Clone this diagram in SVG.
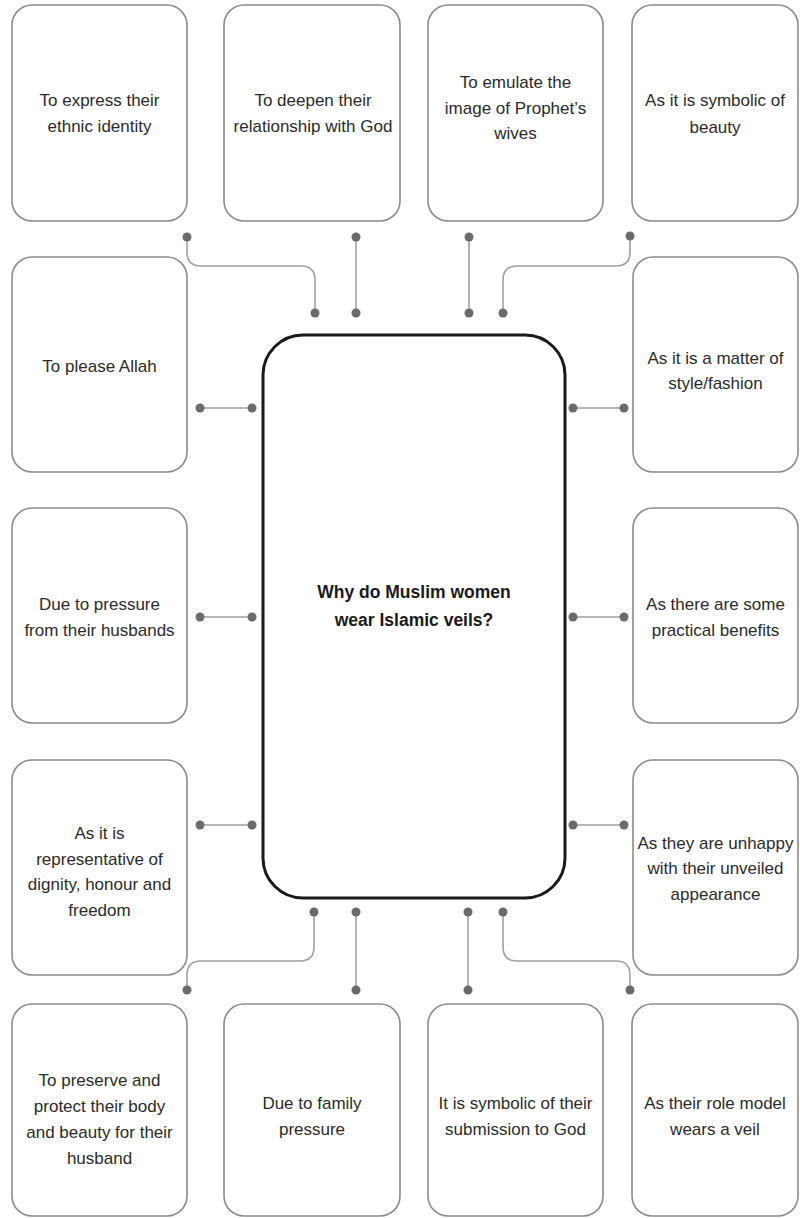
<svg xmlns="http://www.w3.org/2000/svg" width="800" height="1218" viewBox="0 0 800 1218">
<style>
.box{fill:#fff;stroke:#8c8c8c;stroke-width:1.6}
.center{fill:#fff;stroke:#1a1a1a;stroke-width:3}
.t{font-family:"Liberation Sans",Arial,sans-serif;font-size:17px;fill:#2b2b2b;text-anchor:middle}
.tb{font-family:"Liberation Sans",Arial,sans-serif;font-size:17.5px;font-weight:bold;fill:#1a1a1a;text-anchor:middle}
.c{fill:none;stroke:#a0a0a0;stroke-width:1.6}
.d{fill:#6b6b6e}
</style>
<rect width="800" height="1218" fill="#fff"/>
<g id="connectors">
<path class="c" d="M187,237 V252 Q187,266 201,266 H301 Q315,266 315,280 V313"/>
<path class="c" d="M356,237 V313"/>
<path class="c" d="M469,237 V313"/>
<path class="c" d="M630,236 V252 Q630,266 616,266 H517 Q503,266 503,280 V313"/>
<path class="c" d="M200,408 H252"/>
<path class="c" d="M573,408 H624"/>
<path class="c" d="M200,617 H252"/>
<path class="c" d="M573,617 H624"/>
<path class="c" d="M200,825 H252"/>
<path class="c" d="M573,825 H624"/>
<path class="c" d="M314,912 V947 Q314,961 300,961 H201 Q187,961 187,975 V990"/>
<path class="c" d="M356,912 V990"/>
<path class="c" d="M468,912 V990"/>
<path class="c" d="M503,912 V947 Q503,961 517,961 H616 Q630,961 630,975 V990"/>
<g class="d">
<circle cx="187" cy="237" r="4.5"/><circle cx="315" cy="313" r="4.5"/>
<circle cx="356" cy="237" r="4.5"/><circle cx="356" cy="313" r="4.5"/>
<circle cx="469" cy="237" r="4.5"/><circle cx="469" cy="313" r="4.5"/>
<circle cx="630" cy="236" r="4.5"/><circle cx="503" cy="313" r="4.5"/>
<circle cx="200" cy="408" r="4.5"/><circle cx="252" cy="408" r="4.5"/>
<circle cx="573" cy="408" r="4.5"/><circle cx="624" cy="408" r="4.5"/>
<circle cx="200" cy="617" r="4.5"/><circle cx="252" cy="617" r="4.5"/>
<circle cx="573" cy="617" r="4.5"/><circle cx="624" cy="617" r="4.5"/>
<circle cx="200" cy="825" r="4.5"/><circle cx="252" cy="825" r="4.5"/>
<circle cx="573" cy="825" r="4.5"/><circle cx="624" cy="825" r="4.5"/>
<circle cx="314" cy="912" r="4.5"/><circle cx="187" cy="990" r="4.5"/>
<circle cx="356" cy="912" r="4.5"/><circle cx="356" cy="990" r="4.5"/>
<circle cx="468" cy="912" r="4.5"/><circle cx="468" cy="990" r="4.5"/>
<circle cx="503" cy="912" r="4.5"/><circle cx="630" cy="990" r="4.5"/>
</g>
</g>
<g id="center">
<rect class="center" x="263" y="335" width="302" height="563" rx="40"/>
<text class="tb" x="414" y="598">Why do Muslim women</text>
<text class="tb" x="414" y="626">wear Islamic veils?</text>
</g>
<g id="n1"><rect class="box" x="12" y="5" width="175" height="216" rx="20"/>
<text class="t" x="99.5" y="106">To express their</text><text class="t" x="99.5" y="132">ethnic identity</text></g>
<g id="n2"><rect class="box" x="224" y="5" width="176" height="216" rx="20"/>
<text class="t" x="313" y="106">To deepen their</text><text class="t" x="313" y="132">relationship with God</text></g>
<g id="n3"><rect class="box" x="428" y="5" width="175" height="216" rx="20"/>
<text class="t" x="515.5" y="88">To emulate the</text><text class="t" x="515.5" y="114">image of Prophet’s</text><text class="t" x="515.5" y="139">wives</text></g>
<g id="n4"><rect class="box" x="632" y="5" width="166" height="216" rx="20"/>
<text class="t" x="715" y="106">As it is symbolic of</text><text class="t" x="715" y="133">beauty</text></g>
<g id="n5"><rect class="box" x="12" y="257" width="175" height="215" rx="20"/>
<text class="t" x="99.5" y="372">To please Allah</text></g>
<g id="n6"><rect class="box" x="633" y="257" width="165" height="215" rx="20"/>
<text class="t" x="715.5" y="364">As it is a matter of</text><text class="t" x="715.5" y="389">style/fashion</text></g>
<g id="n7"><rect class="box" x="12" y="508" width="175" height="215" rx="20"/>
<text class="t" x="99.5" y="610">Due to pressure</text><text class="t" x="99.5" y="636">from their husbands</text></g>
<g id="n8"><rect class="box" x="633" y="508" width="165" height="215" rx="20"/>
<text class="t" x="715.5" y="610">As there are some</text><text class="t" x="715.5" y="636">practical benefits</text></g>
<g id="n9"><rect class="box" x="12" y="760" width="175" height="215" rx="20"/>
<text class="t" x="99.5" y="839">As it is</text><text class="t" x="99.5" y="865">representative of</text><text class="t" x="99.5" y="890">dignity, honour and</text><text class="t" x="99.5" y="916">freedom</text></g>
<g id="n10"><rect class="box" x="633" y="760" width="165" height="215" rx="20"/>
<text class="t" x="715.5" y="849">As they are unhappy</text><text class="t" x="715.5" y="874">with their unveiled</text><text class="t" x="715.5" y="900">appearance</text></g>
<g id="n11"><rect class="box" x="12" y="1004" width="175" height="212" rx="20"/>
<text class="t" x="99.5" y="1086">To preserve and</text><text class="t" x="99.5" y="1112">protect their body</text><text class="t" x="99.5" y="1138">and beauty for their</text><text class="t" x="99.5" y="1164">husband</text></g>
<g id="n12"><rect class="box" x="224" y="1004" width="176" height="212" rx="20"/>
<text class="t" x="312" y="1109">Due to family</text><text class="t" x="312" y="1135">pressure</text></g>
<g id="n13"><rect class="box" x="428" y="1004" width="175" height="212" rx="20"/>
<text class="t" x="515.5" y="1109">It is symbolic of their</text><text class="t" x="515.5" y="1135">submission to God</text></g>
<g id="n14"><rect class="box" x="632" y="1004" width="166" height="212" rx="20"/>
<text class="t" x="715" y="1109">As their role model</text><text class="t" x="715" y="1135">wears a veil</text></g>
</svg>
